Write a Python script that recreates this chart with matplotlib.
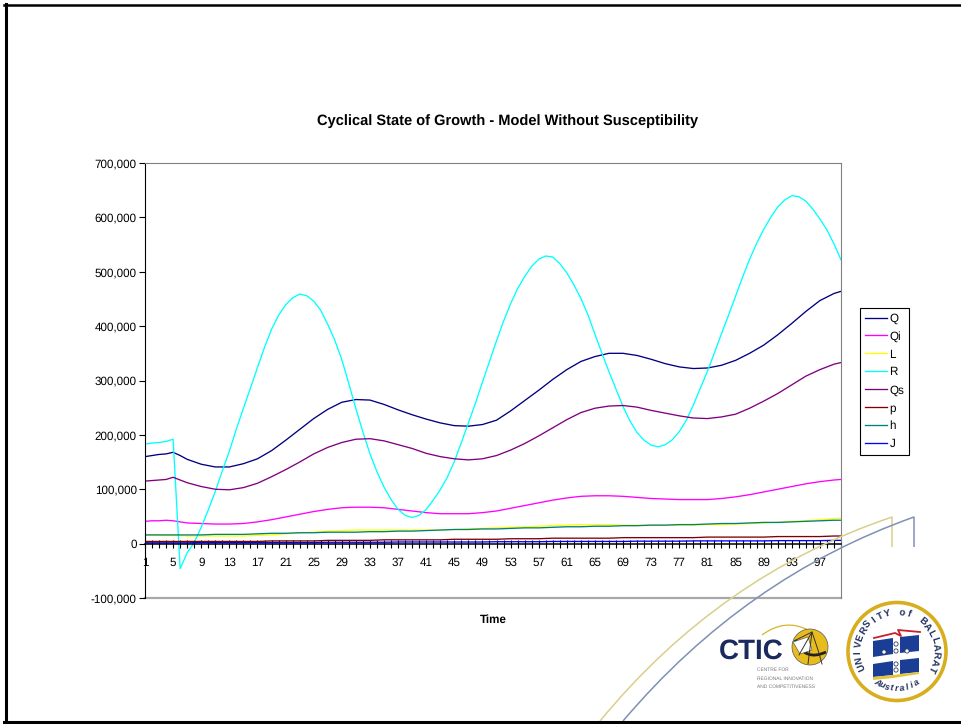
import numpy as np
import matplotlib
matplotlib.use('Agg')
import matplotlib.pyplot as plt
from matplotlib.lines import Line2D
from matplotlib.patches import Circle, PathPatch, Polygon
from matplotlib.path import Path
from matplotlib.ticker import FuncFormatter

plt.rcParams['font.family'] = ['Liberation Sans', 'DejaVu Sans']
plt.rcParams['axes.unicode_minus'] = False
plt.rcParams['text.hinting'] = 'none'

W, H = 961, 724

# sample times, values in thousands
time = [1, 2, 3, 4, 5, 6, 7] + list(range(9, 100, 2)) + [100]
time_r = list(range(1, 101))

Q = [160, 162, 164, 165, 168, 162, 155,
     146, 141, 141, 147, 156, 171, 190, 210, 230, 247, 260, 265, 264, 256, 246, 237,
     229, 222, 217, 216, 219, 227, 244, 263, 282, 302, 320, 335, 344, 350, 350, 346,
     339, 331, 325, 322, 323, 328, 337, 350, 365, 384, 405, 427, 447, 460, 464]
Qi = [41, 42, 42, 43, 42, 40, 38,
      37, 36, 36, 37, 40, 44, 49, 54, 59, 63, 66, 67, 67, 66, 63, 60,
      57, 55, 55, 55, 57, 60, 65, 70, 75, 80, 84, 87, 88, 88, 87, 85,
      83, 82, 81, 81, 81, 83, 86, 90, 95, 100, 105, 110, 114, 117, 118]
L = [16, 16, 15, 15, 15, 15, 14,
     14, 14, 14, 14, 15, 16, 18, 20, 21, 23, 24, 25, 25, 25, 25, 25,
     25, 25, 26, 27, 28, 29, 30, 31, 32, 33, 34, 35, 35, 35, 34, 34,
     34, 34, 34, 34, 35, 35, 36, 37, 38, 39, 41, 42, 44, 46, 47]
R = [183, 185, 186, 188, 192, -46, -17, 2, 30, 62,
     96, 134, 170, 211, 249, 286, 324, 361, 394, 420,
     439, 452, 459, 456, 446, 429, 403, 374, 338, 294,
     248, 205, 165, 132, 104, 81, 63, 52, 48, 52,
     63, 80, 99, 122, 151, 186, 222, 258, 297, 335,
     373, 409, 441, 469, 491, 510, 523, 529, 527, 515,
     498, 476, 451, 421, 385, 350, 316, 284, 252, 225,
     204, 190, 181, 178, 182, 191, 206, 227, 255, 286,
     317, 351, 386, 420, 455, 490, 523, 552, 578, 600,
     619, 632, 640, 638, 630, 615, 597, 577, 551, 522]
Qs = [115, 116, 117, 118, 122, 117, 112,
      105, 100, 99, 103, 111, 123, 136, 150, 165, 177, 186, 192, 193, 189, 182, 175,
      166, 160, 156, 154, 156, 162, 172, 184, 198, 213, 228, 241, 249, 253, 254, 251,
      245, 240, 235, 231, 230, 233, 238, 249, 262, 276, 292, 308, 320, 330, 333]
p = [4, 4, 4, 4, 4, 4, 4,
     4, 4, 4, 4, 4, 5, 5, 5, 5, 6, 6, 6, 6, 7, 7, 7,
     7, 7, 8, 8, 8, 8, 9, 9, 9, 10, 10, 10, 10, 10, 11, 11,
     11, 11, 11, 11, 12, 12, 12, 12, 12, 13, 13, 13, 13, 14, 14]
h = [16, 16, 16, 16, 16, 16, 16,
     16, 17, 17, 17, 18, 19, 19, 20, 20, 21, 21, 21, 22, 22, 23, 23,
     24, 25, 26, 26, 27, 27, 28, 29, 29, 30, 31, 31, 32, 32, 33, 33,
     34, 34, 35, 35, 36, 37, 37, 38, 39, 39, 40, 41, 42, 43, 43]
J = [1.5, 1.5, 1.5, 1.5, 1.5, 1.5, 1.5,
     2, 2, 2, 2, 2, 2, 2, 2, 2, 2.5, 2.5, 2.5, 2.5, 2.5, 3, 3,
     3, 3, 3, 3, 3, 3.5, 3.5, 3.5, 3.5, 4, 4, 4, 4, 4, 4, 4.5,
     4.5, 4.5, 4.5, 5, 5, 5, 5, 5, 5, 5.5, 5.5, 5.5, 5.5, 6, 6]

series_names = ['Q', 'Qi', 'L', 'R', 'Qs', 'p', 'h', 'J']
series_times = [time, time, time, time_r, time, time, time, time]
series_values = [Q, Qi, L, R, Qs, p, h, J]
series_colors = ['#000080', '#FF00FF', '#FFFF00', '#00FFFF',
                 '#800080', '#800000', '#008080', '#0000FF']

y_ticks = [-100000, 0, 100000, 200000, 300000, 400000, 500000, 600000, 700000]

fig = plt.figure(figsize=(W / 100, H / 100), dpi=100, facecolor='white')
ax = fig.add_axes([145 / W, 1 - 598 / H, (841 - 145) / W, (598 - 163) / H])

for name, tt, vals, col in zip(series_names, series_times, series_values, series_colors):
    ax.plot(tt, np.array(vals) * 1000, color=col, lw=0.95, label=name)

ax.set_xlim(1, 100)
ax.set_ylim(-100000, 700000)

ax.spines['left'].set_color('black')
ax.spines['bottom'].set_position(('data', 0))
ax.spines['bottom'].set_color('black')
ax.spines['bottom'].set_linewidth(1.1)
ax.spines['top'].set_color('#808080')
ax.spines['right'].set_color('#808080')
ax.axhline(-100000, color='#a8a8a8', lw=1.6, clip_on=False, zorder=1)

ax.set_xticks(range(1, 101))
ax.set_xticklabels([str(t) if (t - 1) % 4 == 0 else '' for t in range(1, 101)])
ax.set_yticks(y_ticks)
ax.yaxis.set_major_formatter(FuncFormatter(lambda v, pos: f'{int(v):,}'))
ax.tick_params(axis='x', direction='inout', length=6, width=0.8, pad=7, labelsize=8.4)
ax.tick_params(axis='y', direction='out', length=4, width=0.8, pad=2, labelsize=8.4)

ax.set_xlabel('Time', fontsize=8.4, fontweight='bold', va='center')
ax.xaxis.set_label_coords(0.501, -0.05)

fig.text(507.5 / W, 1 - 121 / H, 'Cyclical State of Growth - Model Without Susceptibility',
         fontsize=10.55, fontweight='bold', ha='center', va='center')

ax.legend(loc='upper left', bbox_to_anchor=(860 / W, 1 - 308 / H),
          bbox_transform=fig.transFigure, borderaxespad=0, fancybox=False,
          framealpha=1, edgecolor='black', fontsize=8.4, labelspacing=0.58,
          handlelength=1.9, handletextpad=0.2, borderpad=0.42)
ax.get_legend().get_frame().set_linewidth(0.8)

# slide decoration drawn in pixel coordinates
deco = fig.add_axes([0, 0, 1, 1], facecolor='none', zorder=5)
deco.set_xlim(0, W)
deco.set_ylim(H, 0)
deco.axis('off')

# frame
deco.add_line(Line2D([5.5, 5.5], [4, 722], color='black', lw=2.2))
deco.add_line(Line2D([4, W], [5, 5], color='black', lw=1.8))
deco.add_line(Line2D([4, W], [721.5, 721.5], color='black', lw=2.2))


def swoosh(start, ctrl, end, drop, col):
    verts = [start, ctrl, end, (end[0], drop)]
    codes = [Path.MOVETO, Path.CURVE3, Path.CURVE3, Path.LINETO]
    deco.add_patch(PathPatch(Path(verts, codes), fc='none', ec=col, lw=1.1))


swoosh((600, 721), (720, 575), (892, 517), 547, '#D8CF8C')
swoosh((623, 721), (745, 577), (914, 517), 547, '#8090B4')

# CTIC mark
navy = '#1B2A5E'
deco.text(751.5, 651, 'CTIC', fontsize=20, fontweight='bold', color=navy,
          ha='center', va='center')
for yy, line in zip([670, 678.5, 686.5],
                    ['CENTRE FOR', 'REGIONAL INNOVATION', 'AND COMPETITIVENESS']):
    deco.text(757, yy, line, fontsize=3.5, color='#777777', ha='left', va='center')
deco.add_patch(PathPatch(Path([(762, 635), (785, 618), (808, 630)],
                              [Path.MOVETO, Path.CURVE3, Path.CURVE3]),
                         fc='none', ec='#D8B528', lw=0.9))
deco.add_patch(Circle((810, 647), 18, fc='#E8BC1E', ec='#555555', lw=0.5))
deco.add_patch(PathPatch(Path([(795, 640), (805, 662), (826, 652)],
                              [Path.MOVETO, Path.CURVE3, Path.CURVE3]),
                         fc='none', ec='#222222', lw=2))
deco.add_line(Line2D([796, 812, 818, 822], [640, 632, 650, 664], color='#333333', lw=0.7))
deco.add_line(Line2D([808, 812, 799], [664, 632, 655], color='#333333', lw=0.7))
deco.add_patch(Polygon([(793, 642), (808, 637), (812, 650), (800, 654)],
                       fc='white', ec='#444444', lw=0.4))

# university seal
cx, cy = 897, 651.5
blue = '#1A3E96'
deco.add_patch(Circle((cx, cy), 49, fc='white', ec='#D8AE1E', lw=2.6))

ring = 'UNIVERSITY of BALLARAT'
for ch, ang in zip(ring, np.linspace(203, -27, len(ring))):
    a = np.radians(ang)
    deco.text(cx + 39 * np.cos(a), cy - 39 * np.sin(a), ch, fontsize=7, fontweight='bold',
              color='#22305E', rotation=ang - 90, rotation_mode='anchor',
              ha='center', va='center')
motto = 'Australia'
for ch, ang in zip(motto, np.linspace(238, 302, len(motto))):
    a = np.radians(ang)
    deco.text(cx + 37 * np.cos(a), cy - 37 * np.sin(a), ch, fontsize=6.5, fontweight='bold',
              style='italic', color='#22305E', rotation=ang + 90, rotation_mode='anchor',
              ha='center', va='center')

blocks = [[(873, 641), (893, 638), (893, 654), (873, 657)],
          [(900, 637), (919, 635), (919, 651), (900, 653)],
          [(873, 664), (893, 661), (893, 675), (873, 677)],
          [(900, 660), (919, 658), (919, 672), (900, 674)]]
for corners in blocks:
    deco.add_patch(Polygon(corners, fc=blue, ec='none'))
deco.add_patch(Polygon([(873, 677), (893, 675), (919, 672), (919, 674), (893, 678), (873, 680)],
                       fc='#E3C53A', ec='none'))
deco.add_line(Line2D([874, 895, 901, 898, 920], [638, 633, 636, 630, 632],
                     color='#C8202C', lw=1.3))
for ox, oy in [(896, 644), (896, 651), (884, 652), (907, 651), (896, 664), (896, 670)]:
    deco.add_patch(Circle((ox, oy), 2.1, fc='white', ec='#33405E', lw=0.6))

fig.savefig('out.png', dpi=100)
